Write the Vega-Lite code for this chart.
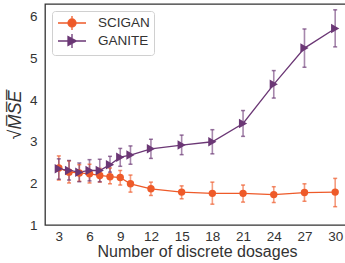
{
  "$schema": "https://vega.github.io/schema/vega-lite/v6.json",
  "width": 304,
  "height": 221,
  "autosize": {"type": "none"},
  "padding": {"left": 45, "top": 4, "right": 0, "bottom": 38},
  "config": {
    "font": "Liberation Sans",
    "view": {"stroke": "#333333", "strokeWidth": 1.3},
    "axis": {"domain": false, "ticks": false, "grid": false, "labelFontSize": 13.5, "labelColor": "#333333", "titleFontSize": 16, "titleFontWeight": "normal", "titleColor": "#333333"},
    "legend": {"orient": "top-left", "offset": 7, "strokeColor": "#d0d0d0", "fillColor": "white", "padding": 4, "cornerRadius": 3, "labelFontSize": 13.5, "labelColor": "#333333", "symbolSize": 196, "rowPadding": -3, "symbolStrokeWidth": 1.3, "symbolOffset": 8, "labelOffset": 18}
  },
  "data": {"values": [
    {"n": 3, "model": "SCIGAN", "m": 2.37, "lo": 2.08, "hi": 2.66},
    {"n": 4, "model": "SCIGAN", "m": 2.27, "lo": 2.01, "hi": 2.54},
    {"n": 5, "model": "SCIGAN", "m": 2.25, "lo": 2.05, "hi": 2.45},
    {"n": 6, "model": "SCIGAN", "m": 2.23, "lo": 2.01, "hi": 2.46},
    {"n": 7, "model": "SCIGAN", "m": 2.19, "lo": 2.03, "hi": 2.36},
    {"n": 8, "model": "SCIGAN", "m": 2.16, "lo": 1.99, "hi": 2.37},
    {"n": 9, "model": "SCIGAN", "m": 2.14, "lo": 1.96, "hi": 2.31},
    {"n": 10, "model": "SCIGAN", "m": 1.99, "lo": 1.79, "hi": 2.2},
    {"n": 12, "model": "SCIGAN", "m": 1.87, "lo": 1.71, "hi": 2.03},
    {"n": 15, "model": "SCIGAN", "m": 1.79, "lo": 1.63, "hi": 1.94},
    {"n": 18, "model": "SCIGAN", "m": 1.76, "lo": 1.5, "hi": 2.03},
    {"n": 21, "model": "SCIGAN", "m": 1.76, "lo": 1.55, "hi": 1.96},
    {"n": 24, "model": "SCIGAN", "m": 1.73, "lo": 1.54, "hi": 1.92},
    {"n": 27, "model": "SCIGAN", "m": 1.78, "lo": 1.57, "hi": 1.99},
    {"n": 30, "model": "SCIGAN", "m": 1.79, "lo": 1.44, "hi": 2.12},
    {"n": 3, "model": "GANITE", "m": 2.35, "lo": 2.1, "hi": 2.59},
    {"n": 4, "model": "GANITE", "m": 2.31, "lo": 2.08, "hi": 2.55},
    {"n": 5, "model": "GANITE", "m": 2.27, "lo": 2.04, "hi": 2.49},
    {"n": 6, "model": "GANITE", "m": 2.31, "lo": 2.06, "hi": 2.57},
    {"n": 7, "model": "GANITE", "m": 2.31, "lo": 2.04, "hi": 2.58},
    {"n": 8, "model": "GANITE", "m": 2.45, "lo": 2.27, "hi": 2.65},
    {"n": 9, "model": "GANITE", "m": 2.63, "lo": 2.41, "hi": 2.84},
    {"n": 10, "model": "GANITE", "m": 2.68, "lo": 2.46, "hi": 2.9},
    {"n": 12, "model": "GANITE", "m": 2.83, "lo": 2.6, "hi": 3.06},
    {"n": 15, "model": "GANITE", "m": 2.92, "lo": 2.69, "hi": 3.16},
    {"n": 18, "model": "GANITE", "m": 3.0, "lo": 2.71, "hi": 3.29},
    {"n": 21, "model": "GANITE", "m": 3.44, "lo": 3.13, "hi": 3.75},
    {"n": 24, "model": "GANITE", "m": 4.38, "lo": 4.05, "hi": 4.71},
    {"n": 27, "model": "GANITE", "m": 5.25, "lo": 4.79, "hi": 5.71},
    {"n": 30, "model": "GANITE", "m": 5.72, "lo": 5.28, "hi": 6.17}
  ]},
  "encoding": {
    "x": {"field": "n", "type": "quantitative", "scale": {"domain": [1.65, 31.35], "nice": false, "zero": false},
      "axis": {"values": [3, 6, 9, 12, 15, 18, 21, 24, 27, 30], "title": "Number of discrete dosages", "labelPadding": 4, "titlePadding": 1}},
    "color": {"field": "model", "type": "nominal", "scale": {"domain": ["SCIGAN", "GANITE"], "range": ["#ee5a29", "#6b3775"]},
      "legend": {"title": null,
        "encode": {"symbols": {"update": {
          "shape": {"signal": "datum.value === 'SCIGAN' ? 'M-2,0H2M-0.57,0A0.57,0.57 0 1,0 0.57,0A0.57,0.57 0 1,0 -0.57,0ZM0,-1V1' : 'M-2,0H2M-0.57,-0.64L0.64,0L-0.57,0.64ZM0,-1V1'"},
          "size": {"value": 196},
          "fill": {"signal": "scale('color', datum.value)"},
          "stroke": {"signal": "scale('color', datum.value)"},
          "fillOpacity": {"value": 1},
          "strokeWidth": {"value": 1.3}
        }}}}}
  },
  "layer": [
    {
      "mark": {"type": "rule", "strokeWidth": 1.6, "opacity": 0.6},
      "encoding": {
        "y": {"field": "lo", "type": "quantitative", "scale": {"domain": [1, 6.31], "nice": false, "zero": false},
          "axis": {"values": [1, 2, 3, 4, 5, 6], "title": "√M̅S̅E̅", "titleFontStyle": "italic", "titleFontSize": 18, "labelPadding": 8, "titlePadding": 5}},
        "y2": {"field": "hi"}
      }
    },
    {
      "mark": {"type": "tick", "size": 4, "thickness": 1.5, "opacity": 0.7, "orient": "horizontal"},
      "encoding": {"y": {"field": "lo", "type": "quantitative"}}
    },
    {
      "mark": {"type": "tick", "size": 4, "thickness": 1.5, "opacity": 0.7, "orient": "horizontal"},
      "encoding": {"y": {"field": "hi", "type": "quantitative"}}
    },
    {
      "mark": {"type": "line", "strokeWidth": 1.3},
      "encoding": {"y": {"field": "m", "type": "quantitative"}}
    },
    {
      "transform": [{"filter": "datum.model === 'SCIGAN'"}],
      "mark": {"type": "point", "filled": true, "opacity": 1, "shape": "circle", "size": 55},
      "encoding": {"y": {"field": "m", "type": "quantitative"}}
    },
    {
      "transform": [{"filter": "datum.model === 'GANITE'"}],
      "mark": {"type": "point", "filled": true, "opacity": 1, "shape": "triangle-right", "size": 90},
      "encoding": {"y": {"field": "m", "type": "quantitative"}}
    }
  ]
}
